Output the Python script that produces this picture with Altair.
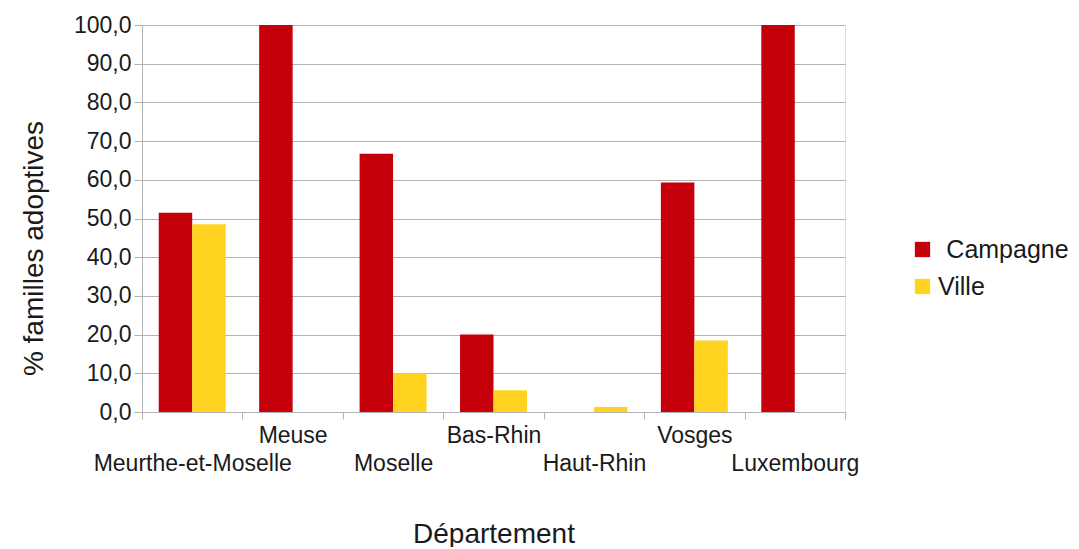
import altair as alt
import pandas as pd

categories = ["Meurthe-et-Moselle", "Meuse", "Moselle", "Bas-Rhin", "Haut-Rhin", "Vosges", "Luxembourg"]
campagne = [51.5, 100.0, 66.7, 20.0, 0.0, 59.3, 100.0]
ville = [48.5, 0.0, 10.0, 5.6, 1.3, 18.5, 0.0]
series = ["Campagne", "Ville"]
colors = ["#c5000b", "#ffd320"]
y_ticks = [0, 10, 20, 30, 40, 50, 60, 70, 80, 90, 100]
top_row = ["Meuse", "Bas-Rhin", "Vosges"]

rows = []
for c, a, b in zip(categories, campagne, ville):
    rows.append({"Département": c, "Série": "Campagne", "v": a})
    rows.append({"Département": c, "Série": "Ville", "v": b})
df = pd.DataFrame(rows)

FONT = "Liberation Sans"
TXT = "#1a1a1a"
GRID = "#b3b3b3"

top_expr = "[" + ",".join("'" + t + "'" for t in top_row) + "]"

chart = alt.Chart(df).mark_bar().encode(
    x=alt.X(
        "Département:N",
        sort=categories,
        scale=alt.Scale(paddingInner=0, paddingOuter=0),
        axis=alt.Axis(
            title="Département",
            labelAngle=0,
            tickBand="extent",
            labelExpr=f"indexof({top_expr}, datum.value) >= 0 ? datum.value : ['', datum.value]",
            labelFontSize=23,
            labelLineHeight=28,
            labelPadding=5,
            labelLimit=400,
            labelOverlap=False,
            labelBound=False,
            labelColor=TXT,
            labelFont=FONT,
            tickSize=7,
            tickColor=GRID,
            domainColor=GRID,
            titleFontSize=28,
            titleFont=FONT,
            titleFontWeight="normal",
            titleColor=TXT,
            titleX=351.5,
            titleY=130,
            titleBaseline="alphabetic",
            titleAlign="center",
        ),
    ),
    xOffset=alt.XOffset("Série:N", sort=series,
                        scale=alt.Scale(paddingInner=0, paddingOuter=0.5)),
    y=alt.Y(
        "v:Q",
        scale=alt.Scale(domain=[0, 100], nice=False),
        axis=alt.Axis(
            title="% familles adoptives",
            values=y_ticks,
            labelExpr="replace(format(datum.value, '.1f'), '.', ',')",
            labelFontSize=23,
            labelFont=FONT,
            labelColor=TXT,
            labelPadding=3,
            tickSize=8,
            tickColor=GRID,
            domainColor=GRID,
            gridColor=GRID,
            titleFontSize=28,
            titleFont=FONT,
            titleFontWeight="normal",
            titleColor=TXT,
            titleAngle=-90,
            titleX=-100,
            titleY=223,
            titleAlign="center",
            titleBaseline="alphabetic",
        ),
    ),
    color=alt.Color(
        "Série:N",
        sort=series,
        scale=alt.Scale(domain=series, range=colors),
        legend=alt.Legend(
            title=None,
            orient="none",
            legendX=768,
            legendY=212,
            symbolType="square",
            symbolSize=234,
            symbolStrokeWidth=0,
            labelFontSize=25,
            labelFont=FONT,
            labelColor=TXT,
            labelOffset=3,
            rowPadding=11,
            labelExpr="(datum.value == 'Campagne' ? '\u200b\u2004' : '') + datum.label",
        ),
    ),
).properties(
    width=703,
    height=387,
    autosize=alt.AutoSizeParams(type="none"),
    padding={"left": 134, "top": 17, "right": 226, "bottom": 135},
).configure_view(
    stroke=GRID,
).configure(background="white")

chart.save("out.html", embed_options={"renderer": "svg", "actions": False})
